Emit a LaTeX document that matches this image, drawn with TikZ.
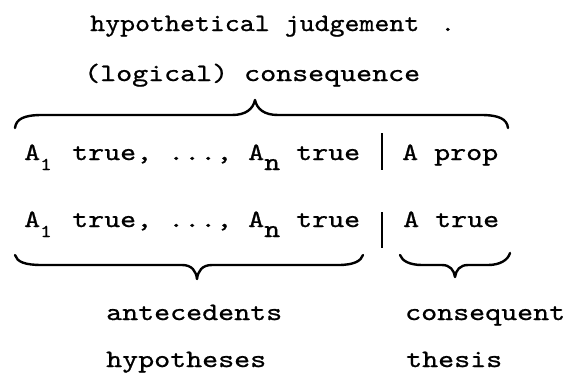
\documentclass[tikz,border=0pt]{standalone}
\usepackage{fontspec}
\newfontfamily\twfont{lmmono10-regular}[Extension=.otf, FakeStretch=1.219, FakeBold=0.8]
\newfontfamily\twtfont{lmmono10-regular}[Extension=.otf, FakeStretch=1.14, FakeBold=0.8]
\newcommand{\lowr}[1]{\raisebox{-10pt}{\makebox[16pt][l]{#1}}}
\begin{document}
\begin{tikzpicture}[x=1pt,y=-1pt,
  tw/.style={font=\twfont\fontsize{25}{30}\selectfont, inner sep=0pt, anchor=base west},
  twtitle/.style={tw, font=\twtfont\fontsize{25}{30}\selectfont},
  brace/.style={line width=2.4pt, line cap=round, line join=round},
  bar/.style={line width=2.6pt}]
\fill[white] (0,0) rectangle (565,373);
\useasboundingbox (0,0) rectangle (565,373);
% heading lines
\node[twtitle] (title) at (90,31) {hypothetical judgement\kern6pt\ .};
\node[tw] (cons) at (84,81) {(logical) consequence};
% top brace
\draw[brace] (15,128) .. controls (16,119) and (24,115) .. (42,115) -- (232,115)
  .. controls (246,115) and (253,109) .. (255,100)
  .. controls (257,109) and (264,115) .. (278,115) -- (481,115)
  .. controls (499,115) and (507,119) .. (508,128);
% row 1
\node[tw] (ante1) at (24,160) {A\lowr{\fontsize{18}{18}\selectfont 1} true, ..., A\lowr{n} true};
\coordinate (bar1t) at (382,133);
\coordinate (bar1b) at (382,170);
\draw[bar] (bar1t) -- (bar1b);
\node[tw] (prop) at (402,160) {A prop};
% row 2
\node[tw] (ante2) at (24,227) {A\lowr{\fontsize{18}{18}\selectfont 1} true, ..., A\lowr{n} true};
\coordinate (bar2t) at (382,212);
\coordinate (bar2b) at (382,248);
\draw[bar] (bar2t) -- (bar2b);
\node[tw] (truth) at (403,227) {A true};
% bottom braces
\draw[brace] (15,255) .. controls (17,262) and (25,265) .. (42,265) -- (182,265)
  .. controls (192,265) and (196,271) .. (197,279)
  .. controls (198,271) and (202,265) .. (212,265) -- (338,265)
  .. controls (354,265) and (361,261) .. (363,255);
\draw[brace] (400,255) .. controls (402,261) and (410,265) .. (422,265) -- (442,265)
  .. controls (450,265) and (454,270) .. (455,277)
  .. controls (456,270) and (460,265) .. (468,265) -- (488,265)
  .. controls (500,265) and (508,260) .. (510,253);
% labels
\node[tw] (antec) at (106,320) {antecedents};
\node[tw] (hyps) at (106,367) {hypotheses};
\node[tw] (conseq) at (405,320) {consequent};
\node[tw] (thes) at (406,367) {thesis};
\end{tikzpicture}
\end{document}
